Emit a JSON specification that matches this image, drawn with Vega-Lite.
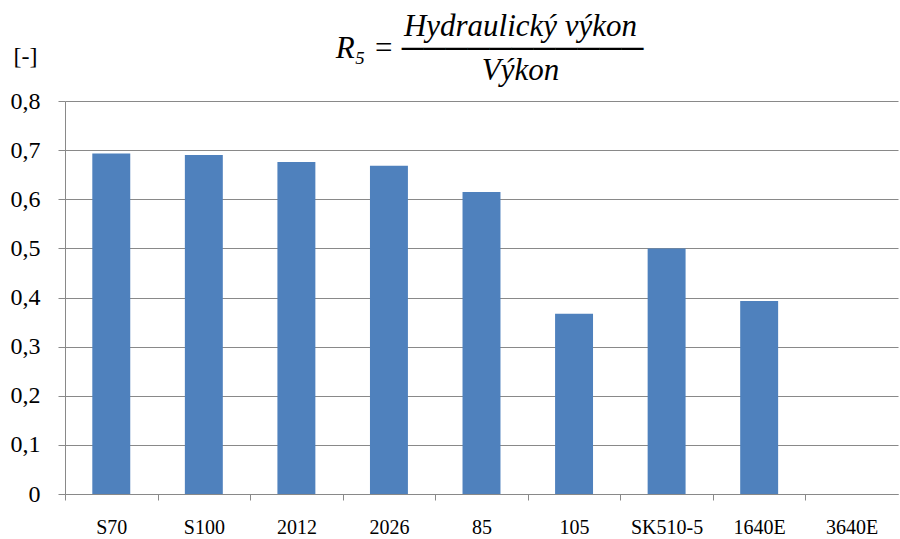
{
  "$schema": "https://vega.github.io/schema/vega-lite/v6.json",
  "autosize": {"type": "none"},
  "width": 833,
  "height": 393,
  "padding": {"left": 65, "top": 101, "right": 2, "bottom": 45},
  "background": "white",
  "title": {
    "text": ["\u200b\u2002\u2002\u2002\u2002Hydraulický výkon", "R\u2085 = \u2500\u2500\u2500\u2500\u2500\u2500\u2500\u2500\u2500\u2500\u2500", "\u200b\u2002\u2002\u2002\u2002Výkon"],
    "font": "Liberation Serif",
    "fontStyle": "italic",
    "fontWeight": "normal",
    "fontSize": 31,
    "lineHeight": 22,
    "color": "black",
    "anchor": "middle",
    "frame": "group",
    "baseline": "bottom",
    "offset": -74,
    "dx": 8
  },
  "data": {
    "values": [
      {"model": "S70", "value": 0.693},
      {"model": "S100", "value": 0.690},
      {"model": "2012", "value": 0.676},
      {"model": "2026", "value": 0.668},
      {"model": "85", "value": 0.615},
      {"model": "105", "value": 0.367},
      {"model": "SK510-5", "value": 0.500},
      {"model": "1640E", "value": 0.393},
      {"model": "3640E", "value": 0}
    ]
  },
  "mark": {"type": "bar", "color": "#4F81BD"},
  "encoding": {
    "x": {
      "field": "model",
      "type": "nominal",
      "sort": null,
      "scale": {"paddingInner": 0.59, "paddingOuter": 0.295},
      "axis": {
        "title": null,
        "labelAngle": 0,
        "labelFont": "Liberation Serif",
        "labelFontSize": 20,
        "labelColor": "black",
        "labelPadding": 17,
        "tickOffset": -46.28,
        "labelOffset": 46.28,
        "tickSize": 6,
        "tickColor": "#898989",
        "domainColor": "#898989",
        "grid": false
      }
    },
    "y": {
      "field": "value",
      "type": "quantitative",
      "scale": {"domain": [0, 0.8], "nice": false},
      "axis": {
        "values": [0, 0.1, 0.2, 0.3, 0.4, 0.5, 0.6, 0.7, 0.8],
        "labelExpr": "replace(format(datum.value, '~g'), '.', ',')",
        "labelFont": "Liberation Serif",
        "labelFontSize": 24,
        "labelColor": "black",
        "labelPadding": 18,
        "tickSize": 7,
        "tickColor": "#898989",
        "domainColor": "#898989",
        "gridColor": "#898989",
        "title": "[-]",
        "titleFont": "Liberation Serif",
        "titleFontSize": 24,
        "titleFontWeight": "normal",
        "titleColor": "black",
        "titleAngle": 0,
        "titleAlign": "left",
        "titleBaseline": "alphabetic",
        "titleX": -52,
        "titleY": -38
      }
    }
  },
  "config": {"view": {"stroke": null}}
}
